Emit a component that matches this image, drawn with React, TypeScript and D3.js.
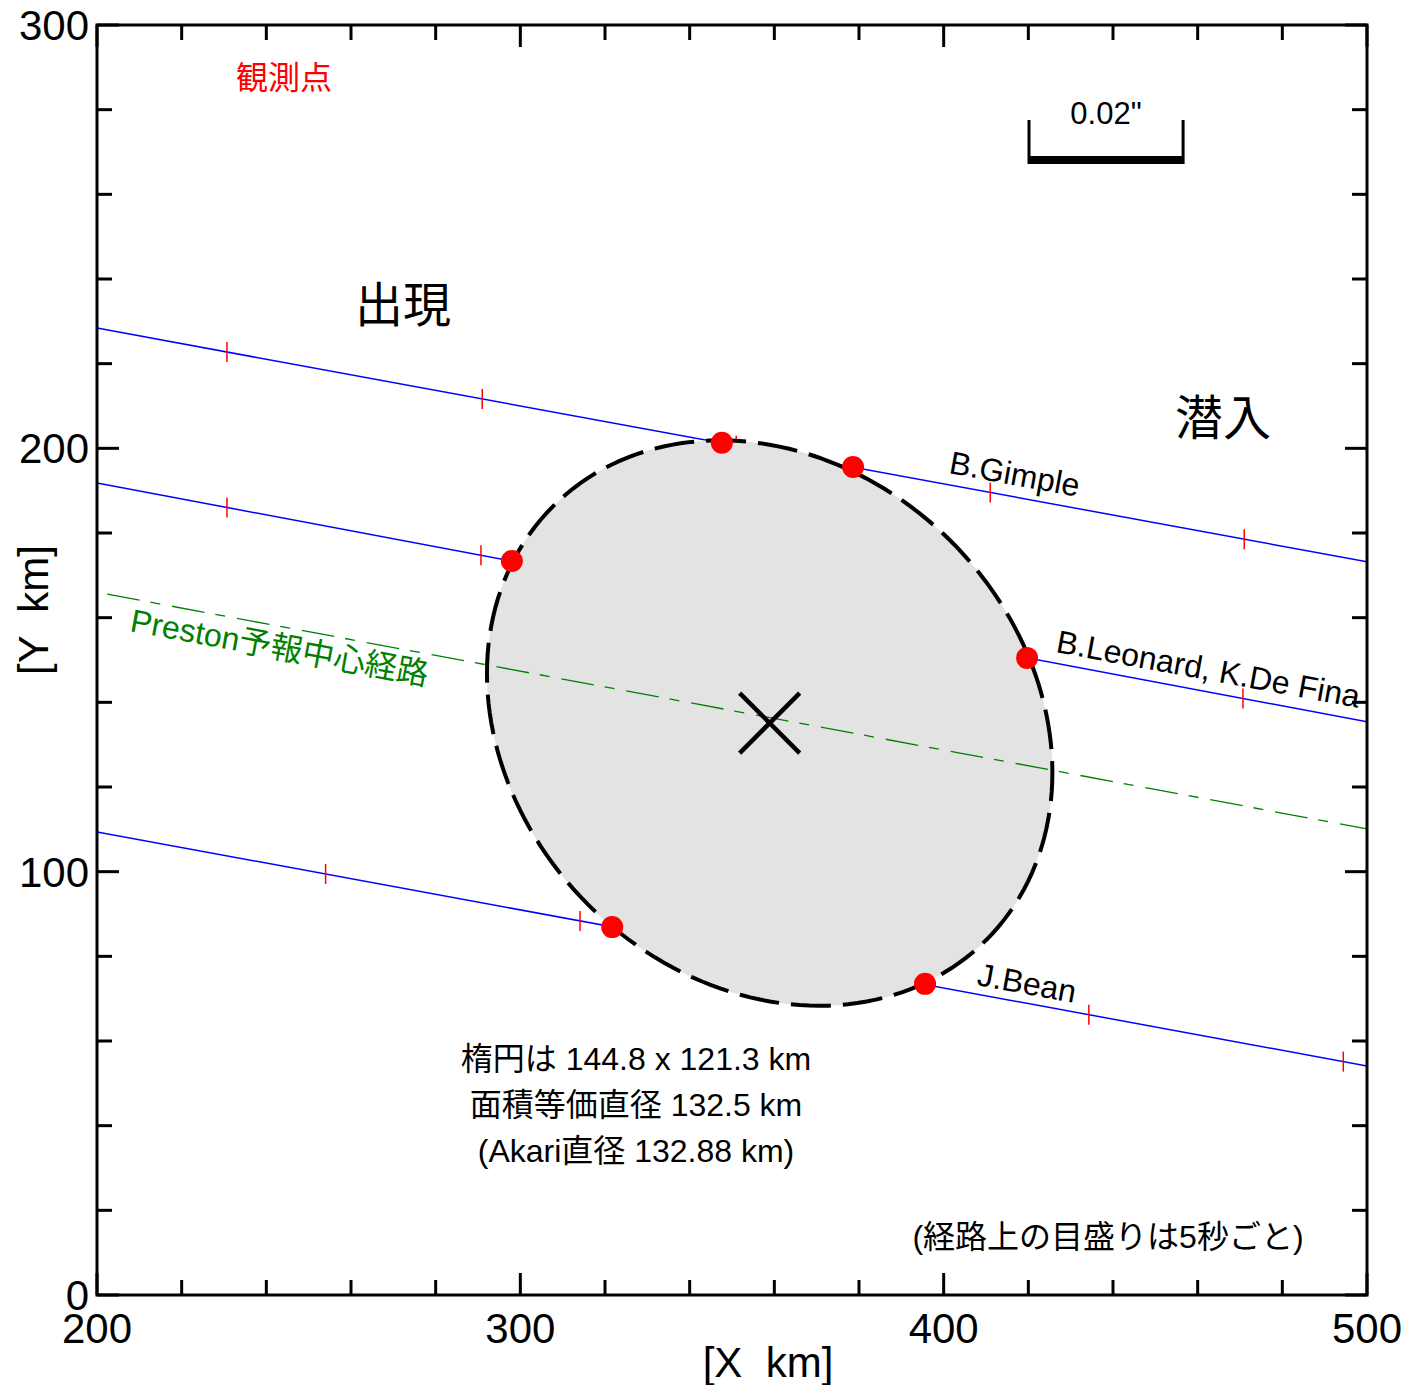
import React from "react";
import * as d3 from "d3";

// ---- data ----
const xDomain = [200, 500];
const yDomain = [0, 300];
const majorTicks = [0, 100, 200, 300];
const xMajorTicks = [200, 300, 400, 500];

// chords: [name, y at x=200, y at x=500]
const chordNames = ["B.Gimple", "B.Leonard, K.De Fina", "J.Bean"];
const chordY200 = [228.4, 191.8, 109.4];
const chordY500 = [173.2, 135.4, 54.1];
// 5-second marks on each chord (x in km)
const chordMarks = [
  [230.7, 291.0, 351.0, 411.0, 471.0],
  [230.7, 290.7, 350.7, 410.7, 470.7],
  [254.0, 314.1, 374.2, 434.3, 494.4],
];
// predicted centre line
const centerY200 = 166.0;
const centerY500 = 110.1;

// observed disk points
const pointsX = [347.6, 378.6, 298.0, 419.7, 321.7, 395.6];
const pointsY = [201.3, 195.6, 173.4, 150.5, 86.9, 73.5];

// ellipse fit
const ellipseCenter = [358.9, 135.1];
const ellipseAxes = [144.8, 121.3];
const ellipseAngleDeg = -45;

const scaleBarKm = 36.4;
const infoLines = ["楕円は 144.8 x 121.3 km", "面積等価直径 132.5 km", "(Akari直径 132.88 km)"];

const FONT = "'Liberation Sans', Arial, 'Noto Sans CJK JP', sans-serif";

export default function App() {
  const W = 1409, H = 1385;
  const x = d3.scaleLinear().domain(xDomain).range([97, 1367]);
  const y = d3.scaleLinear().domain(yDomain).range([1295, 25]);
  const kmPx = x(201) - x(200);

  const minor = d3.range(0, 301, 20);
  const xMinor = d3.range(200, 501, 20);

  const chordAt = (i: number, xv: number) =>
    chordY200[i] + ((chordY500[i] - chordY200[i]) * (xv - 200)) / 300;

  // ellipse path
  const a = ellipseAxes[0] / 2, b = ellipseAxes[1] / 2;
  const th = (ellipseAngleDeg * Math.PI) / 180;
  const ts = d3.range(0, 360, 2).map((d) => (d * Math.PI) / 180);
  const ellPts: [number, number][] = ts.map((t) => [
    ellipseCenter[0] + a * Math.cos(th) * Math.cos(t) - b * Math.sin(th) * Math.sin(t),
    ellipseCenter[1] + a * Math.sin(th) * Math.cos(t) + b * Math.cos(th) * Math.sin(t),
  ]);
  const ellPath = d3.line<[number, number]>().x((d) => x(d[0])).y((d) => y(d[1])).curve(d3.curveLinearClosed)(ellPts)!;

  const angle = (Math.atan2(y(chordY500[0]) - y(chordY200[0]), x(500) - x(200)) * 180) / Math.PI;

  const cx = x(ellipseCenter[0]), cy = y(ellipseCenter[1]);
  const xs = 30;

  const labelPos: [number, number][] = [[948, 473], [1055, 652], [976, 985]];

  const barX0 = 1029;
  const barX1 = barX0 + scaleBarKm * kmPx;
  const cStartX = 202.4;
  const cStartY = centerY200 + ((centerY500 - centerY200) * (cStartX - 200)) / 300;

  return (
    <svg width={W} height={H} style={{ position: "absolute", left: 0, top: 0, background: "#fff" }} fontFamily={FONT}>
      <defs>
        <clipPath id="plot">
          <rect x={x(200)} y={y(300)} width={x(500) - x(200)} height={y(0) - y(300)} />
        </clipPath>
      </defs>
      <g clipPath="url(#plot)">
        {chordNames.map((n, i) => (
          <g key={n}>
            <line x1={x(200)} y1={y(chordY200[i])} x2={x(500)} y2={y(chordY500[i])} stroke="#0000ff" strokeWidth={1.5} />
            {chordMarks[i].map((m) => (
              <line key={m} x1={x(m)} x2={x(m)} y1={y(chordAt(i, m)) - 10} y2={y(chordAt(i, m)) + 10} stroke="#ff0000" strokeWidth={1.5} />
            ))}
          </g>
        ))}
        <path d={ellPath} fill="#e3e3e3" stroke="none" />
        <line x1={x(cStartX)} y1={y(cStartY)} x2={x(500)} y2={y(centerY500)} stroke="#008000" strokeWidth={1.3} strokeDasharray="33,11,10,12" />
        <path d={ellPath} fill="none" stroke="#000" strokeWidth={4} strokeDasharray="40,12" />
        <line x1={cx - xs} y1={cy - xs} x2={cx + xs} y2={cy + xs} stroke="#000" strokeWidth={4.5} />
        <line x1={cx - xs} y1={cy + xs} x2={cx + xs} y2={cy - xs} stroke="#000" strokeWidth={4.5} />
        {pointsX.map((px, i) => (
          <circle key={i} cx={x(px)} cy={y(pointsY[i])} r={11} fill="#ff0000" />
        ))}
      </g>

      {chordNames.map((n, i) => (
        <text key={n} x={labelPos[i][0]} y={labelPos[i][1]} fontSize={32} fill="#000" transform={`rotate(${angle} ${labelPos[i][0]} ${labelPos[i][1]})`}>
          {n}
        </text>
      ))}
      <text x={129} y={631} fontSize={32} fill="#008000" transform={`rotate(${angle} 129 631)`}>
        Preston予報中心経路
      </text>

      <rect x={x(200)} y={y(300)} width={x(500) - x(200)} height={y(0) - y(300)} fill="none" stroke="#000" strokeWidth={3} />
      {minor.map((v) => {
        const L = v % 100 === 0 ? 22 : 15;
        return (
          <g key={"y" + v}>
            <line x1={x(200)} x2={x(200) + L} y1={y(v)} y2={y(v)} stroke="#000" strokeWidth={3} />
            <line x1={x(500)} x2={x(500) - L} y1={y(v)} y2={y(v)} stroke="#000" strokeWidth={3} />
          </g>
        );
      })}
      {xMinor.map((v) => {
        const L = v % 100 === 0 ? 22 : 15;
        return (
          <g key={"x" + v}>
            <line x1={x(v)} x2={x(v)} y1={y(0)} y2={y(0) - L} stroke="#000" strokeWidth={3} />
            <line x1={x(v)} x2={x(v)} y1={y(300)} y2={y(300) + L} stroke="#000" strokeWidth={3} />
          </g>
        );
      })}
      {majorTicks.map((v) => (
        <text key={"yl" + v} x={x(200) - 8} y={y(v) + 15} fontSize={42} textAnchor="end">
          {v}
        </text>
      ))}
      {xMajorTicks.map((v) => (
        <text key={"xl" + v} x={x(v)} y={1343} fontSize={42} textAnchor="middle">
          {v}
        </text>
      ))}
      <text x={768} y={1377} fontSize={42} textAnchor="middle" xmlSpace="preserve">[X  km]</text>
      <text x={48} y={610} fontSize={42} textAnchor="middle" transform="rotate(-90 48 610)" xmlSpace="preserve">[Y  km]</text>

      <text x={284} y={89} fontSize={32} fill="#ff0000" textAnchor="middle">観測点</text>
      <text x={403} y={322} fontSize={48} textAnchor="middle">出現</text>
      <text x={1223} y={435} fontSize={48} textAnchor="middle">潜入</text>

      <text x={(barX0 + barX1) / 2} y={124} fontSize={31} textAnchor="middle">0.02"</text>
      <line x1={barX0} x2={barX0} y1={120} y2={164} stroke="#000" strokeWidth={3} />
      <line x1={barX1} x2={barX1} y1={120} y2={164} stroke="#000" strokeWidth={3} />
      <line x1={barX0} x2={barX1} y1={160} y2={160} stroke="#000" strokeWidth={8} />

      {infoLines.map((t, i) => (
        <text key={t} x={636} y={1070 + i * 46} fontSize={32} textAnchor="middle">
          {t}
        </text>
      ))}
      <text x={1108} y={1248} fontSize={32} textAnchor="middle">(経路上の目盛りは5秒ごと)</text>
    </svg>
  );
}
